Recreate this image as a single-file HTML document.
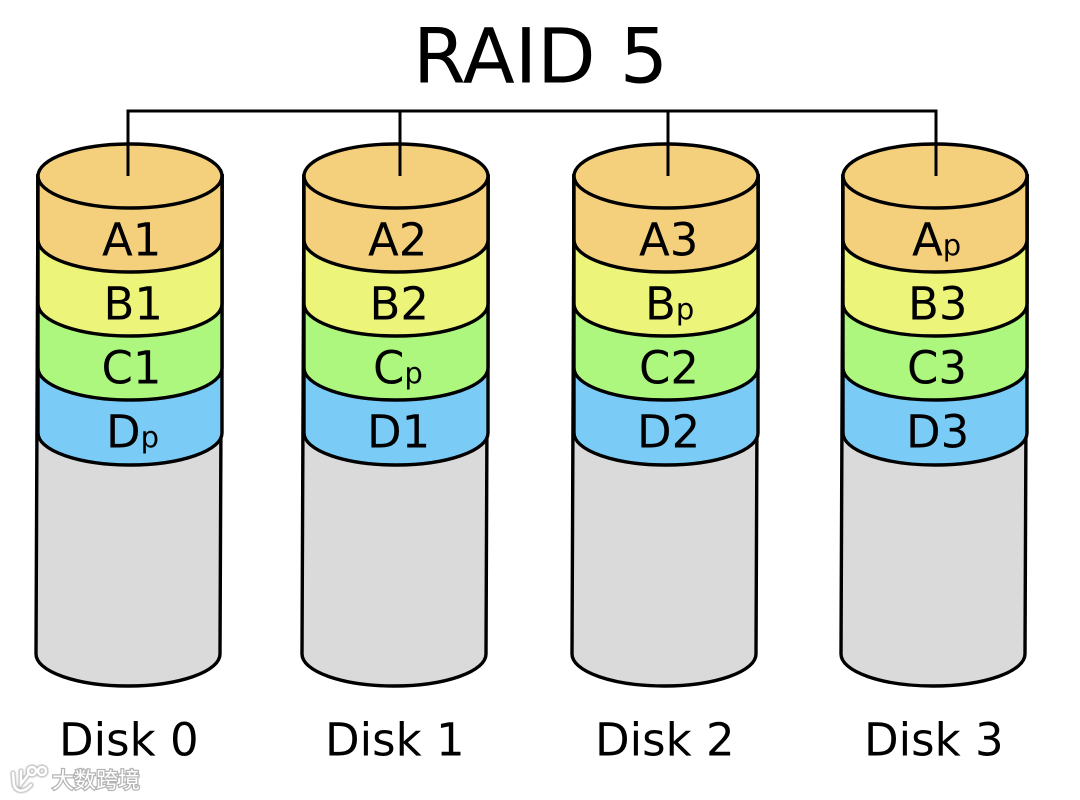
<!DOCTYPE html>
<html><head><meta charset="utf-8"><style>
html,body{margin:0;padding:0;background:#fff}
svg{display:block}
text{font-family:"DejaVu Sans",sans-serif;fill:#000}
.l{font-size:45px}
.s{font-size:29px}
.d{font-size:45px}
.c{fill:none;stroke:#000;stroke-width:3}
</style></head><body>
<svg width="1080" height="800" viewBox="0 0 1080 800" xmlns="http://www.w3.org/2000/svg">
<defs>
<g id="cyl" stroke="#000" stroke-width="3.4">
<path d="M0 176 L-2 654 A92 32 0 0 0 182 654 L184 176 Z" fill="#dadada"/>
<path d="M0 176 V433 A92 32 0 0 0 184 433 V176 Z" fill="#7accf6"/>
<path d="M0 176 V368 A92 32 0 0 0 184 368 V176 Z" fill="#aef77e"/>
<path d="M0 176 V304 A92 32 0 0 0 184 304 V176 Z" fill="#ecf47a"/>
<path d="M0 176 V240 A92 32 0 0 0 184 240 V176 Z" fill="#f4d07c"/>
<ellipse cx="92" cy="176" rx="92" ry="32" fill="#f4d07c"/>
</g>
<filter id="b" x="-20%" y="-20%" width="140%" height="140%"><feGaussianBlur stdDeviation="0.7"/></filter>
</defs>
<use href="#cyl" x="38"/>
<use href="#cyl" x="304"/>
<use href="#cyl" x="574"/>
<use href="#cyl" x="843"/>
<path class="c" d="M128 176 V111 H936 V176 M400 111 V176 M668 111 V176"/>
<text x="413" y="82.5" style="font-size:76px">RAID 5</text>

<text class="l" x="102" y="255.5">A1</text>
<text class="l" x="103.5" y="319.5">B1</text>
<text class="l" x="101.5" y="383.5">C1</text>
<text class="l" x="106" y="447.5">D<tspan class="s">p</tspan></text>

<text class="l" x="368" y="255.5">A2</text>
<text class="l" x="369.5" y="319.5">B2</text>
<text class="l" x="373" y="383.5">C<tspan class="s">p</tspan></text>
<text class="l" x="367" y="447.5">D1</text>

<text class="l" x="639" y="255.5">A3</text>
<text class="l" x="645" y="319.5">B<tspan class="s">p</tspan></text>
<text class="l" x="639" y="383.5">C2</text>
<text class="l" x="637" y="447.5">D2</text>

<text class="l" x="912" y="255.5">A<tspan class="s">p</tspan></text>
<text class="l" x="908" y="319.5">B3</text>
<text class="l" x="907" y="383.5">C3</text>
<text class="l" x="906" y="447.5">D3</text>

<text class="d" x="59" y="755.5">Disk 0</text>
<text class="d" x="325" y="755.5">Disk 1</text>
<text class="d" x="595" y="755.5">Disk 2</text>
<text class="d" x="864" y="755.5">Disk 3</text>

<g fill="none" stroke-linecap="round">
<g stroke="#bbb" stroke-width="5" filter="url(#b)">
<path d="M13 773 L14 785 C17 793 25 792 31 785"/>
<path d="M21 771 V784 L28 775"/>
<circle cx="32" cy="771" r="4"/>
<circle cx="42" cy="771" r="4"/>
</g>
<g stroke="#fff" stroke-width="2.5">
<path d="M13 773 L14 785 C17 793 25 792 31 785"/>
<path d="M21 771 V784 L28 775"/>
<circle cx="32" cy="771" r="4"/>
<circle cx="42" cy="771" r="4"/>
</g>
</g>
<text x="52" y="788" style="font-family:'Liberation Sans','Noto Sans CJK SC',sans-serif;font-size:22px;fill:#fff;stroke:#b4b4b4;stroke-width:2.5;paint-order:stroke">大数跨境</text>
</svg>
</body></html>
